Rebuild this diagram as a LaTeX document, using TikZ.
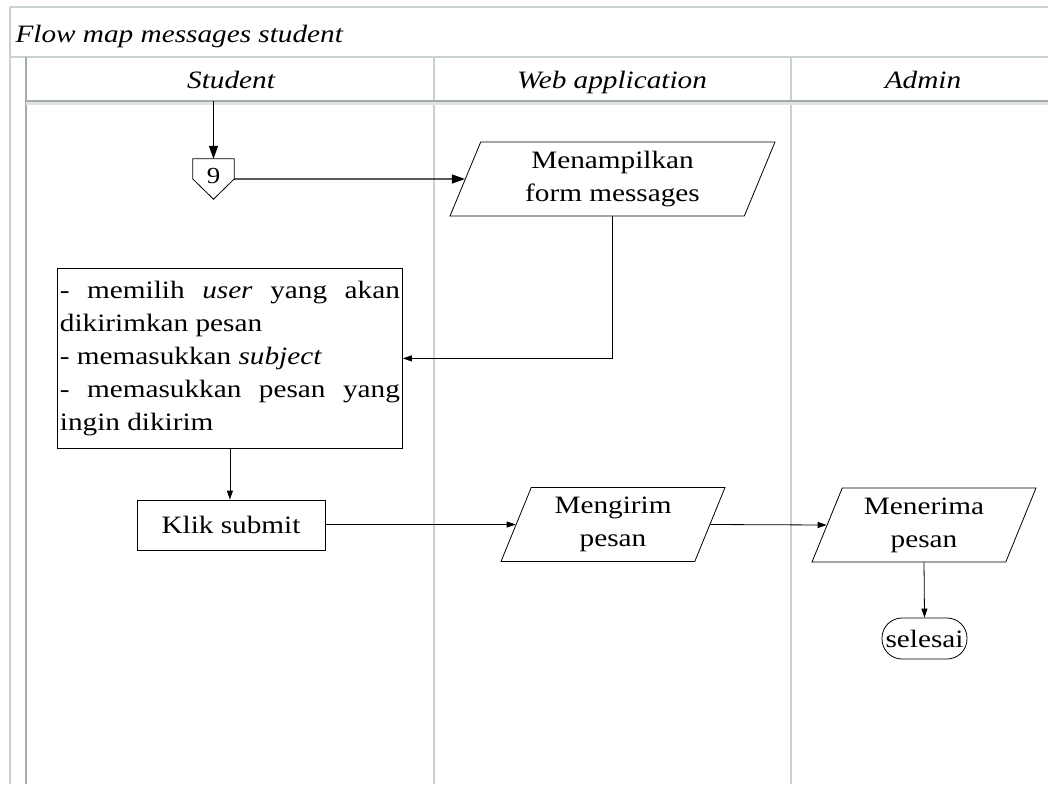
\documentclass[tikz,border=0pt]{standalone}
\usepackage{fontspec}
\setmainfont{Liberation Serif}[FakeStretch=1.17]
\usetikzlibrary{shapes.geometric,arrows.meta}
\definecolor{gridlight}{HTML}{C9D2CE}
\definecolor{griddark}{HTML}{A3ACA8}
\begin{document}
\begin{tikzpicture}[x=1pt,y=-1pt,
  lane/.style={draw=gridlight,line width=1.2pt},
  lanedark/.style={draw=griddark,line width=1.4pt},
  body/.style={font=\fontsize{25}{33}\selectfont},
  head/.style={font=\fontsize{25}{28}\selectfont\itshape,anchor=base},
  io/.style={trapezium,trapezium left angle=62,trapezium right angle=118,
    trapezium stretches body,draw,line width=0.8pt,body,align=center,
    inner sep=1pt,minimum height=74},
  proc/.style={rectangle,draw,line width=0.8pt,body},
  term/.style={rectangle,rounded corners=20,draw,line width=0.8pt,body,
    inner sep=2pt,minimum height=41,minimum width=85},
  flow/.style={line width=0.8pt,-{Triangle[length=9pt,width=6pt]}},
  flowbold/.style={line width=1.4pt,-{Triangle[length=13pt,width=9pt]}}]
\useasboundingbox (0,0) rectangle (1048,784);
\fill[white] (0,0) rectangle (1048,784);

% table frame: title row, lane headers, lane separators
\draw[lane] (10,7) -- (1048,7);
\draw[lane] (10,7) -- (10,784);
\draw[lane] (10,57) -- (1048,57);
\draw[lanedark] (26,57) -- (26,784);
\draw[lane] (434,57) -- (434,784);
\draw[lane] (791,57) -- (791,784);
\draw[draw=gridlight!60,line width=3pt] (26,103) -- (1048,103);
\draw[lanedark] (26,101) -- (1048,101);

\node[head,anchor=base west] (title) at (12,42) {Flow map messages student};
\node[head] (hstudent) at (231,88) {Student};
\node[head] (hweb) at (612,88) {Web application};
\node[head] (hadmin) at (923,88) {Admin};

% off-page connector 9
\coordinate (start) at (213.5,101);
\node[minimum width=41,minimum height=40,inner sep=0pt] (c9) at (213.5,179)
  {\fontsize{23}{23}\selectfont\raisebox{6pt}{9}};
\draw[line width=0.8pt] (c9.north west) -- (c9.north east) -- (c9.east)
  -- (c9.south) -- (c9.west) -- cycle;

\node[io,minimum width=325] (form) at (612.5,179) {Menampilkan\\form messages};

\node[proc,text width=340,align=justify,inner sep=2.5pt,minimum height=180,
  anchor=north west] (input) at (57,268)
  {- memilih \textit{user} yang akan\linebreak dikirimkan pesan\\
   - memasukkan \textit{subject}\\
   - memasukkan pesan yang\linebreak ingin dikirim};

\node[proc,minimum width=188,minimum height=50] (klik) at (231,525) {Klik submit};
\node[io,minimum width=224] (kirim) at (613,524.5) {Mengirim\\pesan};
\node[io,minimum width=224] (terima) at (924,525) {Menerima\\pesan};
\node[term] (selesai) at (924.5,638.5) {selesai};

\draw[flowbold] (start) -- (c9.north);
\draw[flowbold] (c9.east) -- (form.west);
\draw[flow] (form.south) |- (input.east);
\draw[flow] (input.south) -- (input.south |- klik.north);
\draw[flow] (kirim.west -| klik.east) -- (kirim.west);
\draw[flow] (kirim.east) -- (terima.west);
\draw[flow] (terima.south) -- (selesai.north);
\end{tikzpicture}
\end{document}
